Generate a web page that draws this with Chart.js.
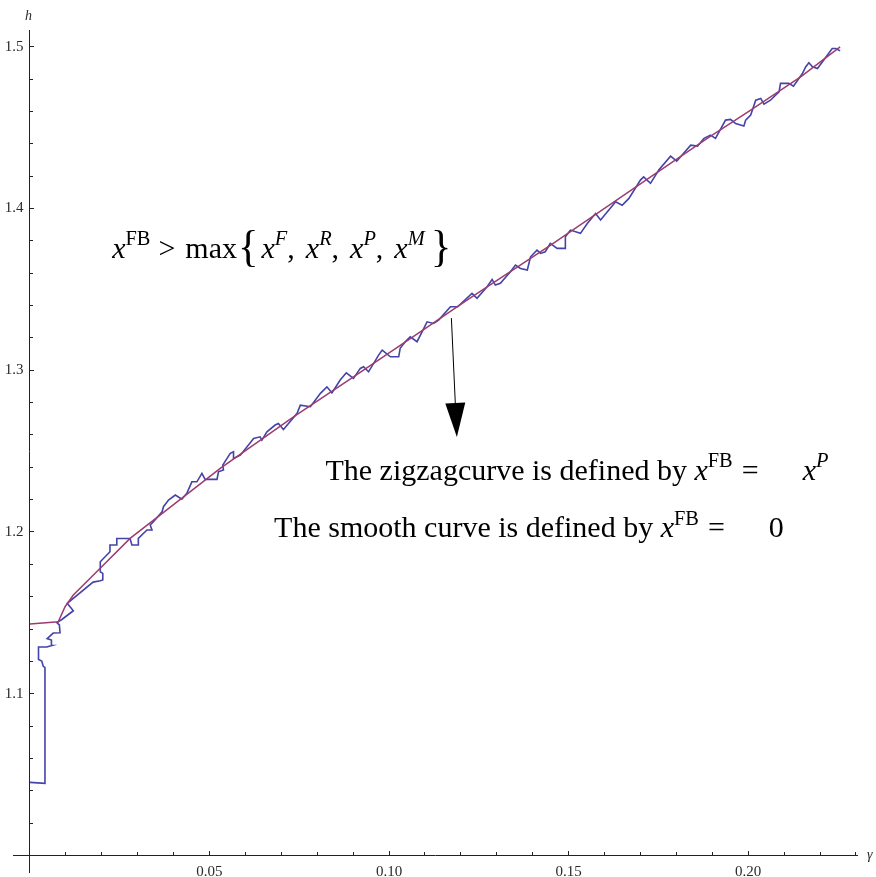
<!DOCTYPE html>
<html><head><meta charset="utf-8">
<script src="https://cdn.jsdelivr.net/npm/chart.js@4.4.1/dist/chart.umd.min.js"></script>
<style>html,body{margin:0;padding:0;background:#fff;}</style>
</head><body>
<canvas id="c" width="876" height="877"></canvas>
<script>
// ---- data ----
const zigzagGamma = [0,0.0042,0.0042,0.0037,0.0033,0.0024,0.0024,0.0047,0.0061,0.0060,0.0048,0.0065,0.0084,0.0082,0.0075,0.0089,0.0121,0.0104,0.0176,0.0196,0.0203,0.0203,0.0196,0.0196,0.0223,0.0223,0.0242,0.0242,0.0279,0.0284,0.0302,0.0302,0.0326,0.0340,0.0335,0.0344,0.0368,0.0372,0.0386,0.0405,0.0423,0.0437,0.0451,0.0465,0.0479,0.0488,0.0521,0.0525,0.0539,0.0537,0.0558,0.0567,0.0567,0.0586,0.0623,0.0641,0.0646,0.0660,0.0683,0.0692,0.0706,0.0744,0.0753,0.0781,0.0809,0.0827,0.0841,0.0864,0.0881,0.0901,0.0920,0.0929,0.0943,0.0971,0.0981,0.1004,0.1027,0.1031,0.1045,0.1059,0.1078,0.1106,0.1124,0.1138,0.1171,0.1191,0.1231,0.1245,0.1273,0.1287,0.1296,0.1310,0.1338,0.1352,0.1366,0.1385,0.1394,0.1412,0.1422,0.1435,0.1449,0.1468,0.1491,0.1491,0.1505,0.1533,0.1552,0.1575,0.1589,0.1631,0.1649,0.1668,0.1700,0.1709,0.1728,0.1751,0.1784,0.1801,0.1840,0.1859,0.1877,0.1895,0.1909,0.1937,0.1951,0.1965,0.1988,0.1993,0.2007,0.2021,0.2035,0.2044,0.2062,0.2086,0.2090,0.2113,0.2126,0.2151,0.2160,0.2169,0.2179,0.2193,0.2234,0.2244,0.2256];
const zigzagH = [1.0452,1.0446,1.1162,1.1171,1.1202,1.1211,1.1289,1.1289,1.1298,1.1332,1.1341,1.1375,1.1377,1.1425,1.1440,1.1459,1.1513,1.1559,1.1690,1.1698,1.1703,1.1744,1.1754,1.1816,1.1878,1.1919,1.1919,1.1960,1.1960,1.1919,1.1919,1.1960,1.2012,1.2012,1.2043,1.2063,1.2125,1.2156,1.2197,1.2228,1.2202,1.2239,1.2310,1.2310,1.2362,1.2325,1.2325,1.2372,1.2383,1.2413,1.2486,1.2496,1.2455,1.2475,1.2578,1.2588,1.2568,1.2619,1.2661,1.2671,1.2634,1.2733,1.2784,1.2774,1.2857,1.2897,1.2860,1.2939,1.2984,1.2949,1.3011,1.3021,1.2990,1.3093,1.3124,1.3083,1.3083,1.3135,1.3176,1.3206,1.3176,1.3299,1.3289,1.3310,1.3392,1.3392,1.3475,1.3444,1.3516,1.3561,1.3526,1.3537,1.3608,1.3650,1.3629,1.3619,1.3701,1.3742,1.3722,1.3732,1.3784,1.3753,1.3753,1.3825,1.3866,1.3846,1.3907,1.3969,1.3928,1.4041,1.4020,1.4062,1.4175,1.4195,1.4155,1.4237,1.4323,1.4292,1.4391,1.4385,1.4433,1.4453,1.4433,1.4546,1.4550,1.4525,1.4509,1.4546,1.4577,1.4669,1.4680,1.4645,1.4669,1.4721,1.4773,1.4773,1.4756,1.4834,1.4875,1.4900,1.4875,1.4865,1.4989,1.4989,1.4974];
const smoothGamma = [0,0.0079,0.0098,0.0121,0.0186,0.0279,0.0530,0.0734,0.0901,0.1087,0.1217,0.1450,0.1756,0.1886,0.2007,0.2146,0.2256];
const smoothH = [1.1431,1.1445,1.1538,1.1610,1.1754,1.1960,1.2393,1.2712,1.2959,1.3237,1.3433,1.3773,1.4237,1.4433,1.4607,1.4813,1.4999];
const xMajorTicks = [0.05,0.10,0.15,0.20];
const xTickLabels = ['0.05','0.10','0.15','0.20'];
const xMinorTicks = [0.01,0.02,0.03,0.04,0.06,0.07,0.08,0.09,0.11,0.12,0.13,0.14,0.16,0.17,0.18,0.19,0.21,0.22,0.23];
const yMajorTicks = [1.1,1.2,1.3,1.4,1.5];
const yTickLabels = ['1.1','1.2','1.3','1.4','1.5'];
const yMinorTicks = [1.02,1.04,1.06,1.08,1.12,1.14,1.16,1.18,1.22,1.24,1.26,1.28,1.32,1.34,1.36,1.38,1.42,1.44,1.46,1.48];
const xRange = [-0.0047, 0.2303];
const yRange = [0.9898, 1.5103];
const axisTitleX = 'γ';
const axisTitleY = 'h';

const SERIF = '"Liberation Serif", "DejaVu Serif", serif';
const tickFont = {family: SERIF, size: 15};
const axisColor = '#222';
const labelColor = '#2a2a2a';

function toPts(xs, ys){ return xs.map((v,i)=>({x:v, y:ys[i]})); }
function setTicks(list){ return s => { s.ticks = list.map(v=>({value:v})); }; }

// rich text helper: segments [{t, it, sup, big, gap(px)}]
function drawRich(ctx, x, y, segs, size){
  let cx = x;
  for (const s of segs){
    const fs = s.sup ? size*0.68 : (s.big ? size*s.big : size);
    ctx.font = (s.it ? 'italic ' : '') + fs + 'px ' + SERIF;
    const dy = s.sup ? -size*0.42 : (s.dy||0);
    if (s.big){
      ctx.save();
      ctx.translate(cx, y + dy);
      ctx.scale(s.sx||1, s.sy||1);
      ctx.fillText(s.t, 0, 0);
      ctx.restore();
      cx += ctx.measureText(s.t).width*(s.sx||1) + (s.gap||0);
    } else {
      ctx.fillText(s.t, cx, y + dy);
      cx += ctx.measureText(s.t).width + (s.gap||0);
    }
  }
}

const annotations = {
  id: 'annotations',
  afterDraw(chart){
    const ctx = chart.ctx;
    const sx = chart.scales.x, sy = chart.scales.y;
    const px = v => sx.getPixelForValue(v), py = v => sy.getPixelForValue(v);
    ctx.save();
    ctx.textBaseline = 'alphabetic';
    ctx.textAlign = 'left';
    // axis titles
    ctx.font = 'italic 14px ' + SERIF;
    ctx.fillStyle = labelColor;
    ctx.fillText(axisTitleY, px(0) - 5, 20);
    ctx.fillText(axisTitleX, px(xRange[1]) + 10, py(1.0) + 4);
    ctx.fillStyle = '#000';
    // region label
    drawRich(ctx, px(0.0229), py(1.3693), [
      {t:'x', it:true},{t:'FB', sup:true, gap:8},{t:'>', gap:10},{t:'max', gap:1},
      {t:'{', big:1.3, dy:3, sx:1.1, sy:1.15, gap:3},
      {t:'x', it:true},{t:'F', it:true, sup:true},{t:',', gap:11},
      {t:'x', it:true},{t:'R', it:true, sup:true},{t:',', gap:11},
      {t:'x', it:true},{t:'P', it:true, sup:true},{t:',', gap:11},
      {t:'x', it:true},{t:'M', it:true, sup:true, gap:6},
      {t:'}', big:1.3, dy:3, sx:1.1, sy:1.15}
    ], 30);
    drawRich(ctx, px(0.0823), py(1.2321), [
      {t:'The zigzagcurve is defined by '},
      {t:'x', it:true},{t:'FB', sup:true, gap:9},{t:'=', gap:44},
      {t:'x', it:true},{t:'P', it:true, sup:true}
    ], 30);
    drawRich(ctx, px(0.0680), py(1.1968), [
      {t:'The smooth curve is defined by '},
      {t:'x', it:true},{t:'FB', sup:true, gap:9},{t:'=', gap:44},
      {t:'0'}
    ], 30);
    // arrow
    const ax0 = px(0.11736), ay0 = py(1.3322), ax1 = px(0.11889), ay1 = py(1.2587);
    const headLen = 34, headHalf = 10;
    const ang = Math.atan2(ay1-ay0, ax1-ax0);
    const bx = ax1 - headLen*Math.cos(ang), by = ay1 - headLen*Math.sin(ang);
    ctx.strokeStyle = '#000'; ctx.lineWidth = 1;
    ctx.beginPath(); ctx.moveTo(ax0, ay0); ctx.lineTo(bx, by); ctx.stroke();
    ctx.beginPath();
    ctx.moveTo(ax1, ay1);
    ctx.lineTo(bx + headHalf*Math.sin(ang), by - headHalf*Math.cos(ang));
    ctx.lineTo(bx - headHalf*Math.sin(ang), by + headHalf*Math.cos(ang));
    ctx.closePath(); ctx.fill();
    ctx.restore();
  }
};

new Chart(document.getElementById('c'), {
  type: 'scatter',
  data: {
    datasets: [
      {label:'smooth', data: toPts(smoothGamma, smoothH), showLine:true, borderColor:'#9c3c70', backgroundColor:'#9c3c70', borderWidth:1.5, pointRadius:0, tension:0, fill:false},
      {label:'zigzag', data: toPts(zigzagGamma, zigzagH), showLine:true, borderColor:'#4343a8', backgroundColor:'#4343a8', borderWidth:1.6, pointRadius:0, tension:0, fill:false}
    ]
  },
  options: {
    responsive: false, animation: false, devicePixelRatio: 1,
    layout: {padding: {left: 13, right: 19, top: 30, bottom: 5}},
    plugins: {legend: {display:false}, tooltip: {enabled:false}},
    scales: {
      x: {type:'linear', axis:'x', min:xRange[0], max:xRange[1], position:{y:1.0},
          afterBuildTicks: setTicks(xMajorTicks),
          ticks: {callback:(v,i)=>xTickLabels[i], font:tickFont, color:labelColor, padding:13, maxRotation:0, autoSkip:false},
          grid: {drawOnChartArea:false, tickLength:-5, tickColor:axisColor, tickWidth:1},
          border: {display:true, color:axisColor, width:1}},
      xm: {type:'linear', axis:'x', min:xRange[0], max:xRange[1], position:{y:1.0},
          afterBuildTicks: setTicks(xMinorTicks),
          ticks: {display:false},
          grid: {drawOnChartArea:false, tickLength:-3, tickColor:axisColor, tickWidth:1},
          border: {display:false}},
      y: {type:'linear', axis:'y', min:yRange[0], max:yRange[1], position:{x:0},
          afterBuildTicks: setTicks(yMajorTicks),
          ticks: {display:false},
          grid: {drawOnChartArea:false, tickLength:-5, tickColor:axisColor, tickWidth:1},
          border: {display:true, color:axisColor, width:1}},
      ym: {type:'linear', axis:'y', min:yRange[0], max:yRange[1], position:{x:0},
          afterBuildTicks: setTicks(yMinorTicks),
          ticks: {display:false},
          grid: {drawOnChartArea:false, tickLength:-3, tickColor:axisColor, tickWidth:1},
          border: {display:false}},
      yl: {type:'linear', axis:'y', min:yRange[0], max:yRange[1], position:{x:-0.0018},
          afterBuildTicks: setTicks(yMajorTicks),
          ticks: {callback:(v,i)=>yTickLabels[i], font:tickFont, color:labelColor, padding:-4, autoSkip:false},
          grid: {display:false, drawTicks:false},
          border: {display:false}}
    }
  },
  plugins: [annotations]
});
</script>
</body></html>
